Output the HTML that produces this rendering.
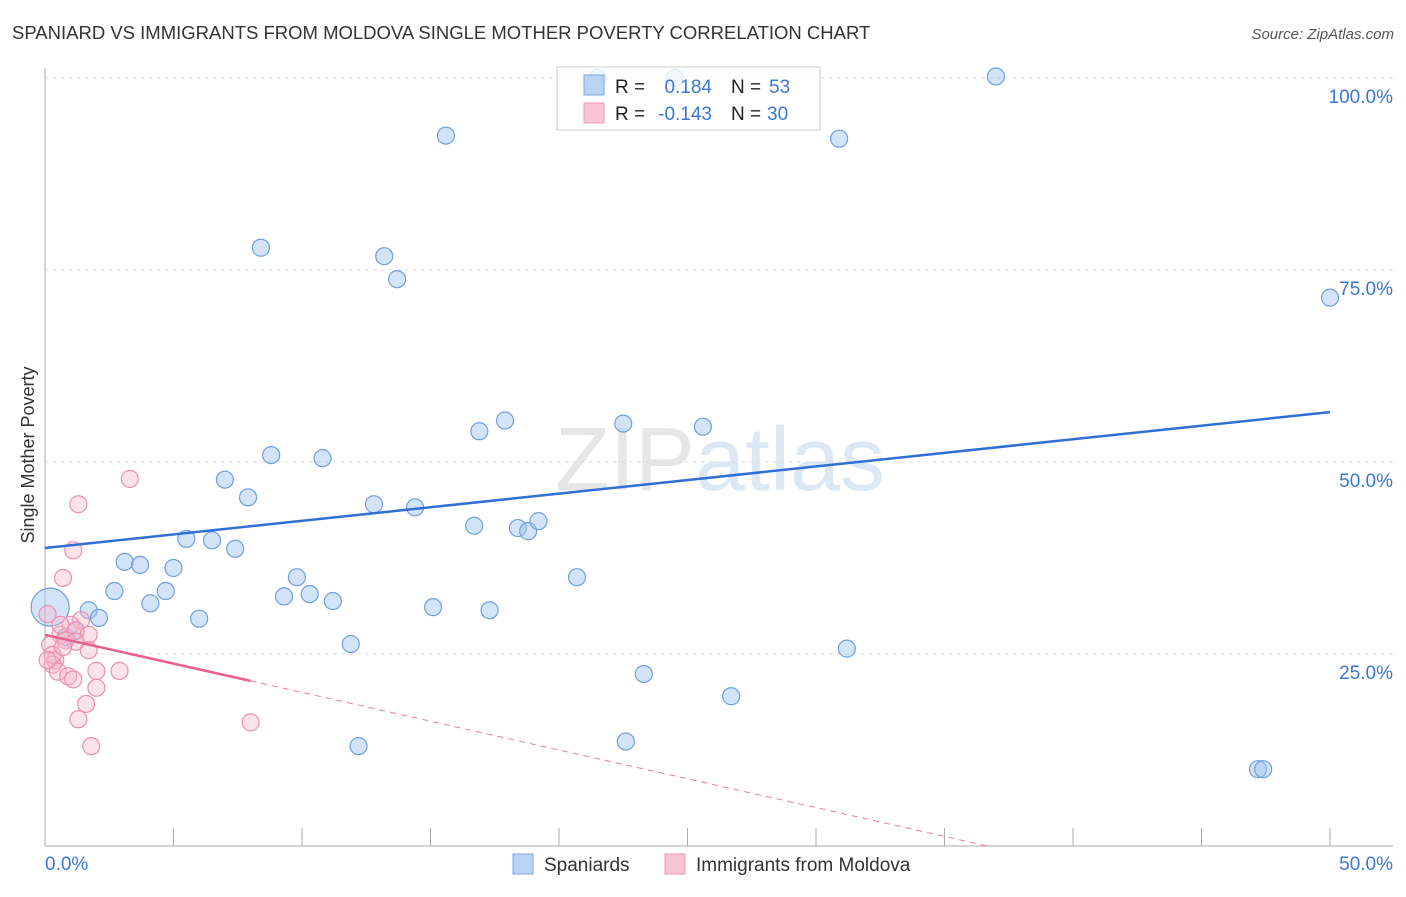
<!DOCTYPE html>
<html><head><meta charset="utf-8"><style>
body{margin:0;background:#fff;font-family:"Liberation Sans",sans-serif;}
svg text{font-family:"Liberation Sans",sans-serif;}
</style></head><body>
<svg id="c" width="1406" height="892">
<text x="12" y="39" font-size="18.5" fill="#333">SPANIARD VS IMMIGRANTS FROM MOLDOVA SINGLE MOTHER POVERTY CORRELATION CHART</text>
<text x="1394" y="39" font-size="15" fill="#555" font-style="italic" text-anchor="end">Source: ZipAtlas.com</text>
<text x="720" y="490" font-size="90" fill="#e6e6e6" text-anchor="middle" font-family="Liberation Serif">ZIP<tspan fill="#dde8f5" font-family="Liberation Sans">atlas</tspan></text>
<g id="grid"></g>
<g id="axes"></g>
<g id="marks"></g>
<text transform="translate(34,455) rotate(-90)" font-size="18" fill="#333" text-anchor="middle">Single Mother Poverty</text>
<g>
<rect x="557" y="67" width="263" height="63" fill="rgba(255,255,255,0.75)" stroke="#ccc"/>
<rect x="584" y="75" width="20" height="20" fill="#b8d3f3" stroke="#7aaae6"/>
<rect x="584" y="103" width="20" height="20" fill="#f9c5d5" stroke="#ef9ab5"/>
<text x="615" y="93" font-size="19" fill="#222">R = </text><text x="712" y="93" font-size="19" fill="#3a78d4" text-anchor="end">0.184</text>
<text x="731" y="93" font-size="19" fill="#222">N = </text><text x="769" y="93" font-size="19" fill="#3a78d4">53</text>
<text x="615" y="120" font-size="19" fill="#222">R = </text><text x="712" y="120" font-size="19" fill="#3a78d4" text-anchor="end">-0.143</text>
<text x="731" y="120" font-size="19" fill="#222">N = </text><text x="767" y="120" font-size="19" fill="#3a78d4">30</text>
</g>
<g>
<rect x="513" y="854" width="20" height="20" fill="#b8d3f3" stroke="#7aaae6"/>
<text x="544" y="871" font-size="19" fill="#333">Spaniards</text>
<rect x="665" y="854" width="20" height="20" fill="#f9c5d5" stroke="#ef9ab5"/>
<text x="696" y="871" font-size="19" fill="#333">Immigrants from Moldova</text>
</g>
</svg>
<script>
const blueX=[21.5,24.5,37.0,15.6,30.9,8.4,13.2,13.7,50.0,17.9,16.9,22.5,25.6,8.8,10.8,7.0,7.9,12.8,14.4,16.7,18.4,18.8,19.2,5.5,6.5,7.4,3.1,3.7,5.0,2.7,4.7,4.1,9.8,9.3,10.3,11.2,20.7,15.1,17.3,6.0,1.7,2.1,11.9,31.2,23.3,26.7,12.2,22.6,47.2,47.4,1.2,0.8,0.2];
const blueY=[100.0,100.0,100.2,92.5,92.1,77.9,76.8,73.8,71.4,55.4,54.0,55.0,54.6,50.9,50.5,47.7,45.4,44.5,44.1,41.7,41.4,41.0,42.3,40.0,39.8,38.7,37.0,36.6,36.2,33.2,33.2,31.6,35.0,32.5,32.8,31.9,35.0,31.1,30.7,29.6,30.7,29.7,26.3,25.7,22.4,19.5,13.0,13.6,10.0,10.0,28.0,27.2,31.1];
const blueR=[8.5,8.5,8.5,8.5,8.5,8.5,8.5,8.5,8.5,8.5,8.5,8.5,8.5,8.5,8.5,8.5,8.5,8.5,8.5,8.5,8.5,8.5,8.5,8.5,8.5,8.5,8.5,8.5,8.5,8.5,8.5,8.5,8.5,8.5,8.5,8.5,8.5,8.5,8.5,8.5,8.5,8.5,8.5,8.5,8.5,8.5,8.5,8.5,8.5,8.5,8.5,8.5,19];
const pinkX=[3.3,1.3,1.1,0.7,0.1,1.4,1.0,1.2,1.7,0.6,0.8,1.2,1.7,0.2,0.4,0.3,0.5,0.9,1.1,2.0,2.9,2.0,1.6,1.3,1.8,8.0,0.6,0.3,0.1,0.7];
const pinkY=[47.8,44.5,38.5,34.9,30.2,29.4,28.8,28.1,27.5,27.5,26.8,26.6,25.5,26.2,24.2,23.6,22.7,22.1,21.7,22.8,22.8,20.6,18.5,16.5,13.0,16.1,28.8,24.9,24.2,25.9];
const blueLine=[38.8,56.5];   // y at x=0 and x=50
const pinkLine=[27.5,-0.75];  // intercept, slope
const pinkSolidEnd=8.0;
const xTicks=[0,5,10,15,20,25,30,35,40,45,50];
const yTicks=[25,50,75,100];
const yTickLabels=["25.0%","50.0%","75.0%","100.0%"];
const NS="http://www.w3.org/2000/svg";
const X=v=>45+v*25.7, Y=v=>846-v*7.68;
function mk(par,tag,a){const e=document.createElementNS(NS,tag);for(const k in a)e.setAttribute(k,a[k]);document.getElementById(par).appendChild(e);return e;}
yTicks.forEach((t,i)=>{
 const l=mk('grid','line',{x1:45,x2:1393,y1:Y(t),y2:Y(t),stroke:'#ddd','stroke-dasharray':'4,4'});
 
 
 const tx=mk('grid','text',{x:1393,y:Y(t)+25,'font-size':19,fill:'#3a78d4','text-anchor':'end'});
 tx.textContent=yTickLabels[i];
 
 
});
mk('axes','line',{x1:45,x2:45,y1:68,y2:846,stroke:'#aaa'});
mk('axes','line',{x1:45,x2:1393,y1:846,y2:846,stroke:'#aaa'});
xTicks.forEach(t=>{const l=mk('axes','line',{x1:X(t),x2:X(t),y1:828,y2:846,stroke:'#aaa'});
 
 });
let t1=mk('axes','text',{x:45,y:870,'font-size':19,fill:'#3a78d4'});t1.textContent='0.0%';


let t2=mk('axes','text',{x:1393,y:870,'font-size':19,fill:'#3a78d4','text-anchor':'end'});t2.textContent='50.0%';


blueX.forEach((v,i)=>{const c=mk('marks','circle',{cx:X(v),cy:Y(blueY[i]),r:blueR[i],fill:'rgba(160,195,240,0.45)',stroke:'#6f9fdf','stroke-width':1.2});
 
 });
pinkX.forEach((v,i)=>{const c=mk('marks','circle',{cx:X(v),cy:Y(pinkY[i]),r:8.5,fill:'rgba(248,185,205,0.4)',stroke:'#ee8fae','stroke-width':1.2});
 
 });
const bl=mk('marks','line',{x1:X(0),y1:Y(blueLine[0]),x2:X(50),y2:Y(blueLine[1]),stroke:'#2f6fd6','stroke-width':2.5});


const pEnd=-pinkLine[0]/pinkLine[1];
const pd=mk('marks','line',{x1:X(pinkSolidEnd),y1:Y(pinkLine[0]+pinkLine[1]*pinkSolidEnd),x2:X(pEnd),y2:Y(0),stroke:'#ec7aa0','stroke-width':1,'stroke-dasharray':'6,5'});


const pl=mk('marks','line',{x1:X(0),y1:Y(pinkLine[0]),x2:X(pinkSolidEnd),y2:Y(pinkLine[0]+pinkLine[1]*pinkSolidEnd),stroke:'#e8608e','stroke-width':2.5});


</script>
</body></html>
